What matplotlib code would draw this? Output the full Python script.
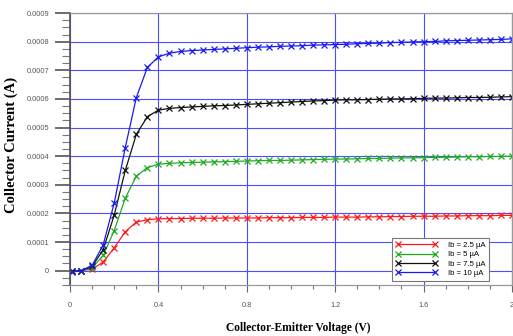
import numpy as np
import matplotlib
matplotlib.use('Agg')
import matplotlib.pyplot as plt
from matplotlib.ticker import MultipleLocator, FuncFormatter

# Vce (V)
vce = [0.01, 0.05, 0.10, 0.15, 0.20, 0.25, 0.30, 0.35, 0.40, 0.45, 0.50,
       0.55, 0.60, 0.65, 0.70, 0.75, 0.80, 0.85, 0.90, 0.95, 1.00, 1.05,
       1.10, 1.15, 1.20, 1.25, 1.30, 1.35, 1.40, 1.45, 1.50, 1.55, 1.60,
       1.65, 1.70, 1.75, 1.80, 1.85, 1.90, 1.95, 2.00]

# collector current in uA
ic_25 = [-3, 0, 5, 30, 80, 136, 170, 178, 181, 182, 182, 183, 183, 183, 184, 184, 184,
         184, 185, 185, 185, 186, 186, 186, 187, 187, 187, 188, 188, 189, 189, 190, 190,
         190, 191, 191, 192, 192, 192, 193, 193]
ic_5 = [-2, 0, 10, 53, 140, 253, 330, 360, 372, 375, 377, 378, 379, 380, 381, 382, 383,
        384, 385, 385, 386, 387, 388, 389, 390, 390, 391, 392, 392, 393, 394, 394, 395,
        396, 396, 397, 398, 398, 399, 399, 400]
ic_75 = [-3, 0, 15, 73, 194, 350, 476, 538, 561, 567, 570, 572, 574, 576, 577, 579, 581,
         583, 585, 587, 589, 591, 593, 594, 596, 597, 597, 598, 599, 600, 600, 601, 602,
         603, 603, 604, 605, 605, 606, 607, 608]
ic_10 = [-5, 0, 18, 90, 236, 430, 605, 710, 747, 760, 766, 769, 771, 773, 775, 777, 779,
         781, 782, 784, 785, 786, 788, 789, 790, 791, 793, 794, 795, 797, 798, 799, 800,
         801, 803, 804, 805, 806, 807, 808, 810]

labels = ['Ib = 2.5 µA', 'Ib = 5 µA', 'Ib = 7.5 µA', 'Ib = 10 µA']
colors = ['#ff1a1a', '#22aa22', '#111111', '#1a1aee']

fig = plt.figure(figsize=(5.13, 3.36), dpi=100)
ax = fig.add_axes([0.1365, 0.152, 0.8615, 0.809])

for ic, lab, c in zip([ic_25, ic_5, ic_75, ic_10], labels, colors):
    ax.plot(vce, np.array(ic) * 1e-6, c=c, lw=0.9, marker='x', ms=5, mew=0.9, label=lab)

ax.set_xlim(0, 2)
ax.set_ylim(-0.00005, 0.0009)

ax.xaxis.set_major_locator(MultipleLocator(0.4))
ax.xaxis.set_minor_locator(MultipleLocator(0.1))
ax.yaxis.set_major_locator(MultipleLocator(0.0001))
ax.yaxis.set_minor_locator(MultipleLocator(0.000025))
ax.xaxis.set_major_formatter(FuncFormatter(lambda v, p: '%g' % round(v, 2)))
ax.yaxis.set_major_formatter(FuncFormatter(lambda v, p: '0' if abs(v) < 1e-9 else '%.4f' % v))

ax.grid(True, which='major', color='#4d4dff', lw=0.8)
ax.set_axisbelow(True)

ax.tick_params(axis='y', which='major', direction='out', length=10.5, width=1.2,
               color='#555555', pad=4.5, labelsize=5.3, labelcolor='#555555')
ax.tick_params(axis='y', which='minor', direction='out', length=5.5, width=0.8, color='#777777')
ax.tick_params(axis='x', which='major', direction='out', length=5, width=0.8,
               color='#666666', pad=7, labelsize=5.3, labelcolor='#555555')
ax.tick_params(axis='x', which='minor', direction='out', length=3, width=0.8, color='#777777')
for lab in ax.get_xticklabels() + ax.get_yticklabels():
    lab.set_fontfamily('Liberation Sans')

ax.spines['left'].set_color('#555555')
ax.spines['left'].set_linewidth(1.2)
for s in ['top', 'right', 'bottom']:
    ax.spines[s].set_color('#999999')
    ax.spines[s].set_linewidth(0.9)

ax.set_xlabel('Collector-Emitter Voltage (V)', family='Liberation Serif',
              weight='bold', fontsize=8.3)
ax.set_ylabel('Collector Current (A)', family='Liberation Serif',
              weight='bold', fontsize=10.5)
ax.xaxis.set_label_coords(0.516, -0.136)
ax.yaxis.set_label_coords(-0.118, 0.515)

leg = ax.legend(loc='lower left', bbox_to_anchor=(0.7285, 0.0147), borderaxespad=0,
                numpoints=2, handlelength=5.3, handletextpad=1.4, labelspacing=0.25,
                borderpad=0.5, fancybox=False, edgecolor='#777777', framealpha=1,
                prop={'family': 'Liberation Sans', 'size': 5.6})
leg.get_frame().set_linewidth(0.8)

fig.savefig('out.png', dpi=100)
